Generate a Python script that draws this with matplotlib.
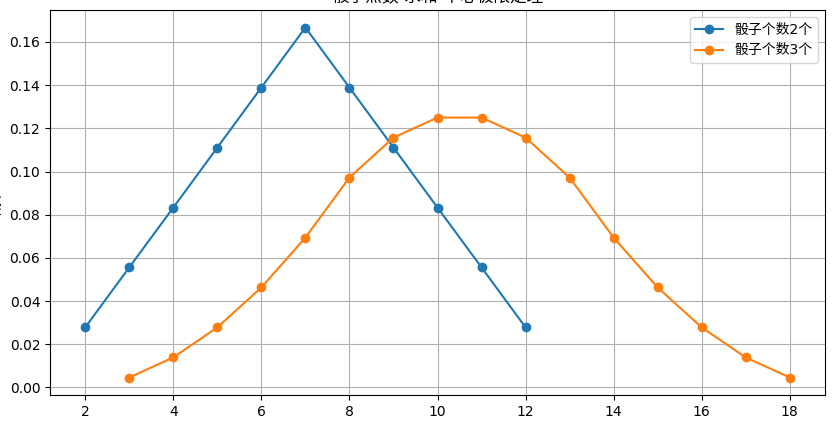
import numpy as np
import matplotlib.pyplot as plt

plt.rcParams['font.family'] = ['DejaVu Sans', 'Noto Sans CJK SC']
plt.rcParams['axes.unicode_minus'] = False

# sums of two dice
sums_2 = [2, 3, 4, 5, 6, 7, 8, 9, 10, 11, 12]
prob_2 = [0.0278, 0.0556, 0.0833, 0.1111, 0.1389, 0.1667,
          0.1389, 0.1111, 0.0833, 0.0556, 0.0278]

# sums of three dice
sums_3 = [3, 4, 5, 6, 7, 8, 9, 10, 11, 12, 13, 14, 15, 16, 17, 18]
prob_3 = [0.0046, 0.0139, 0.0278, 0.0463, 0.0694, 0.0972, 0.1157, 0.1250,
          0.1250, 0.1157, 0.0972, 0.0694, 0.0463, 0.0278, 0.0139, 0.0046]

fig, ax = plt.subplots(figsize=(8.32, 4.23), dpi=100)
fig.subplots_adjust(left=50 / 832, right=825 / 832, top=1 - 10 / 423, bottom=1 - 395 / 423)

ax.plot(sums_2, prob_2, marker='o', label='骰子个数2个')
ax.plot(sums_3, prob_3, marker='o', label='骰子个数3个')

ax.set_xticks(np.arange(2, 19, 2))
ax.set_ylabel('概率')
ax.set_title('骰子点数-求和-中心极限定理')
ax.grid(True)
ax.legend(loc='upper right')

plt.savefig('out.png')
